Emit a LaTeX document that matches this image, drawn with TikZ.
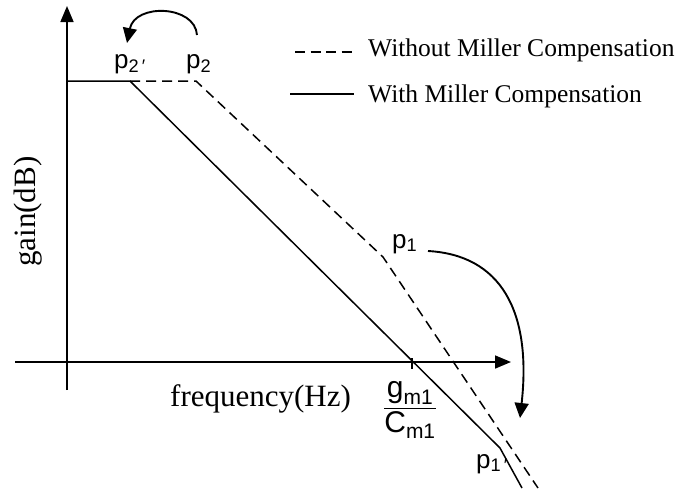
\documentclass[tikz,border=0pt]{standalone}
\usepackage{fontspec}
\usepackage{amsmath}
\setmainfont{Liberation Serif}
\setsansfont{Liberation Sans}
\usetikzlibrary{arrows.meta}
\begin{document}
\begin{tikzpicture}[x=1pt,y=-1pt,
  axis/.style={line width=1.7pt,-{Triangle[length=16pt,width=13pt]}},
  plotline/.style={line width=1.5pt},
  dashline/.style={line width=1.5pt,dash pattern=on 10pt off 6pt},
  legdash/.style={line width=1.5pt,dash pattern=on 10pt off 5.5pt},
  movearrow/.style={line width=1.9pt,-{Triangle[length=15pt,width=14pt]}},
  plbl/.style={font=\sffamily\fontsize{26}{30}\selectfont,inner sep=0pt,anchor=base west},
  serif/.style={font=\fontsize{25.5}{30}\selectfont,inner sep=0pt,anchor=base west}]
\useasboundingbox (0,0) rectangle (677,488);
% axes
\coordinate (yb) at (67,390);
\coordinate (yt) at (67,6);
\coordinate (xl) at (15,362);
\coordinate (xr) at (511,362);
\draw[axis] (yb) -- (yt);
\draw[axis] (xl) -- (xr);
% curves
\coordinate (s0) at (67,81);
\coordinate (k2n) at (130,81);
\coordinate (k1n) at (500,448);
\coordinate (send) at (522,488);
\coordinate (k2) at (196,81);
\coordinate (k1) at (383,257);
\coordinate (dend) at (538,488);
\draw[plotline] (s0) -- (k2n) -- (k1n) -- (send);
\draw[dashline] (k2n) -- (k2) -- (k1) -- (dend);
% tick
\coordinate (t1) at (412,358);
\coordinate (t2) at (412,369);
\draw[line width=1.2pt] (t1) -- (t2);
% moving arrows
\coordinate (a1s) at (197,35);
\coordinate (a1e) at (127,43);
\draw[movearrow] (a1s) .. controls (195,5) and (135,3) .. (a1e);
\coordinate (a2s) at (428,251);
\coordinate (a2e) at (520,418);
\draw[movearrow] (a2s) .. controls (500,255) and (532,310) .. (a2e);
% labels
\node[plbl] (p2p) at (114,68) {p\textsubscript{2\,′}};
\node[plbl] (p2) at (186,68) {p\textsubscript{2}};
\node[plbl] (p1) at (392,248) {p\textsubscript{1}};
\node[plbl] (p1p) at (476,468) {p\textsubscript{1\,′}};
\node[font=\sffamily\fontsize{30}{36}\selectfont,inner sep=0pt] (gc) at (410,410)
  {$\dfrac{\text{g}_{\text{m1}}}{\text{C}_{\text{m1}}}$};
% legend
\coordinate (l1a) at (295,52);
\coordinate (l1b) at (353,52);
\draw[legdash] (l1a) -- (l1b);
\node[serif] (l1) at (368,56) {Without Miller Compensation};
\coordinate (l2a) at (290,94);
\coordinate (l2b) at (354,94);
\draw[plotline] (l2a) -- (l2b);
\node[serif] (l2) at (368,102) {With Miller Compensation};
% axis labels
\node[serif,font=\fontsize{31}{36}\selectfont] (fx) at (170,406) {frequency(Hz)};
\node[serif,font=\fontsize{31}{36}\selectfont,rotate=90] (gy) at (35,267) {gain(dB)};
\end{tikzpicture}
\end{document}
